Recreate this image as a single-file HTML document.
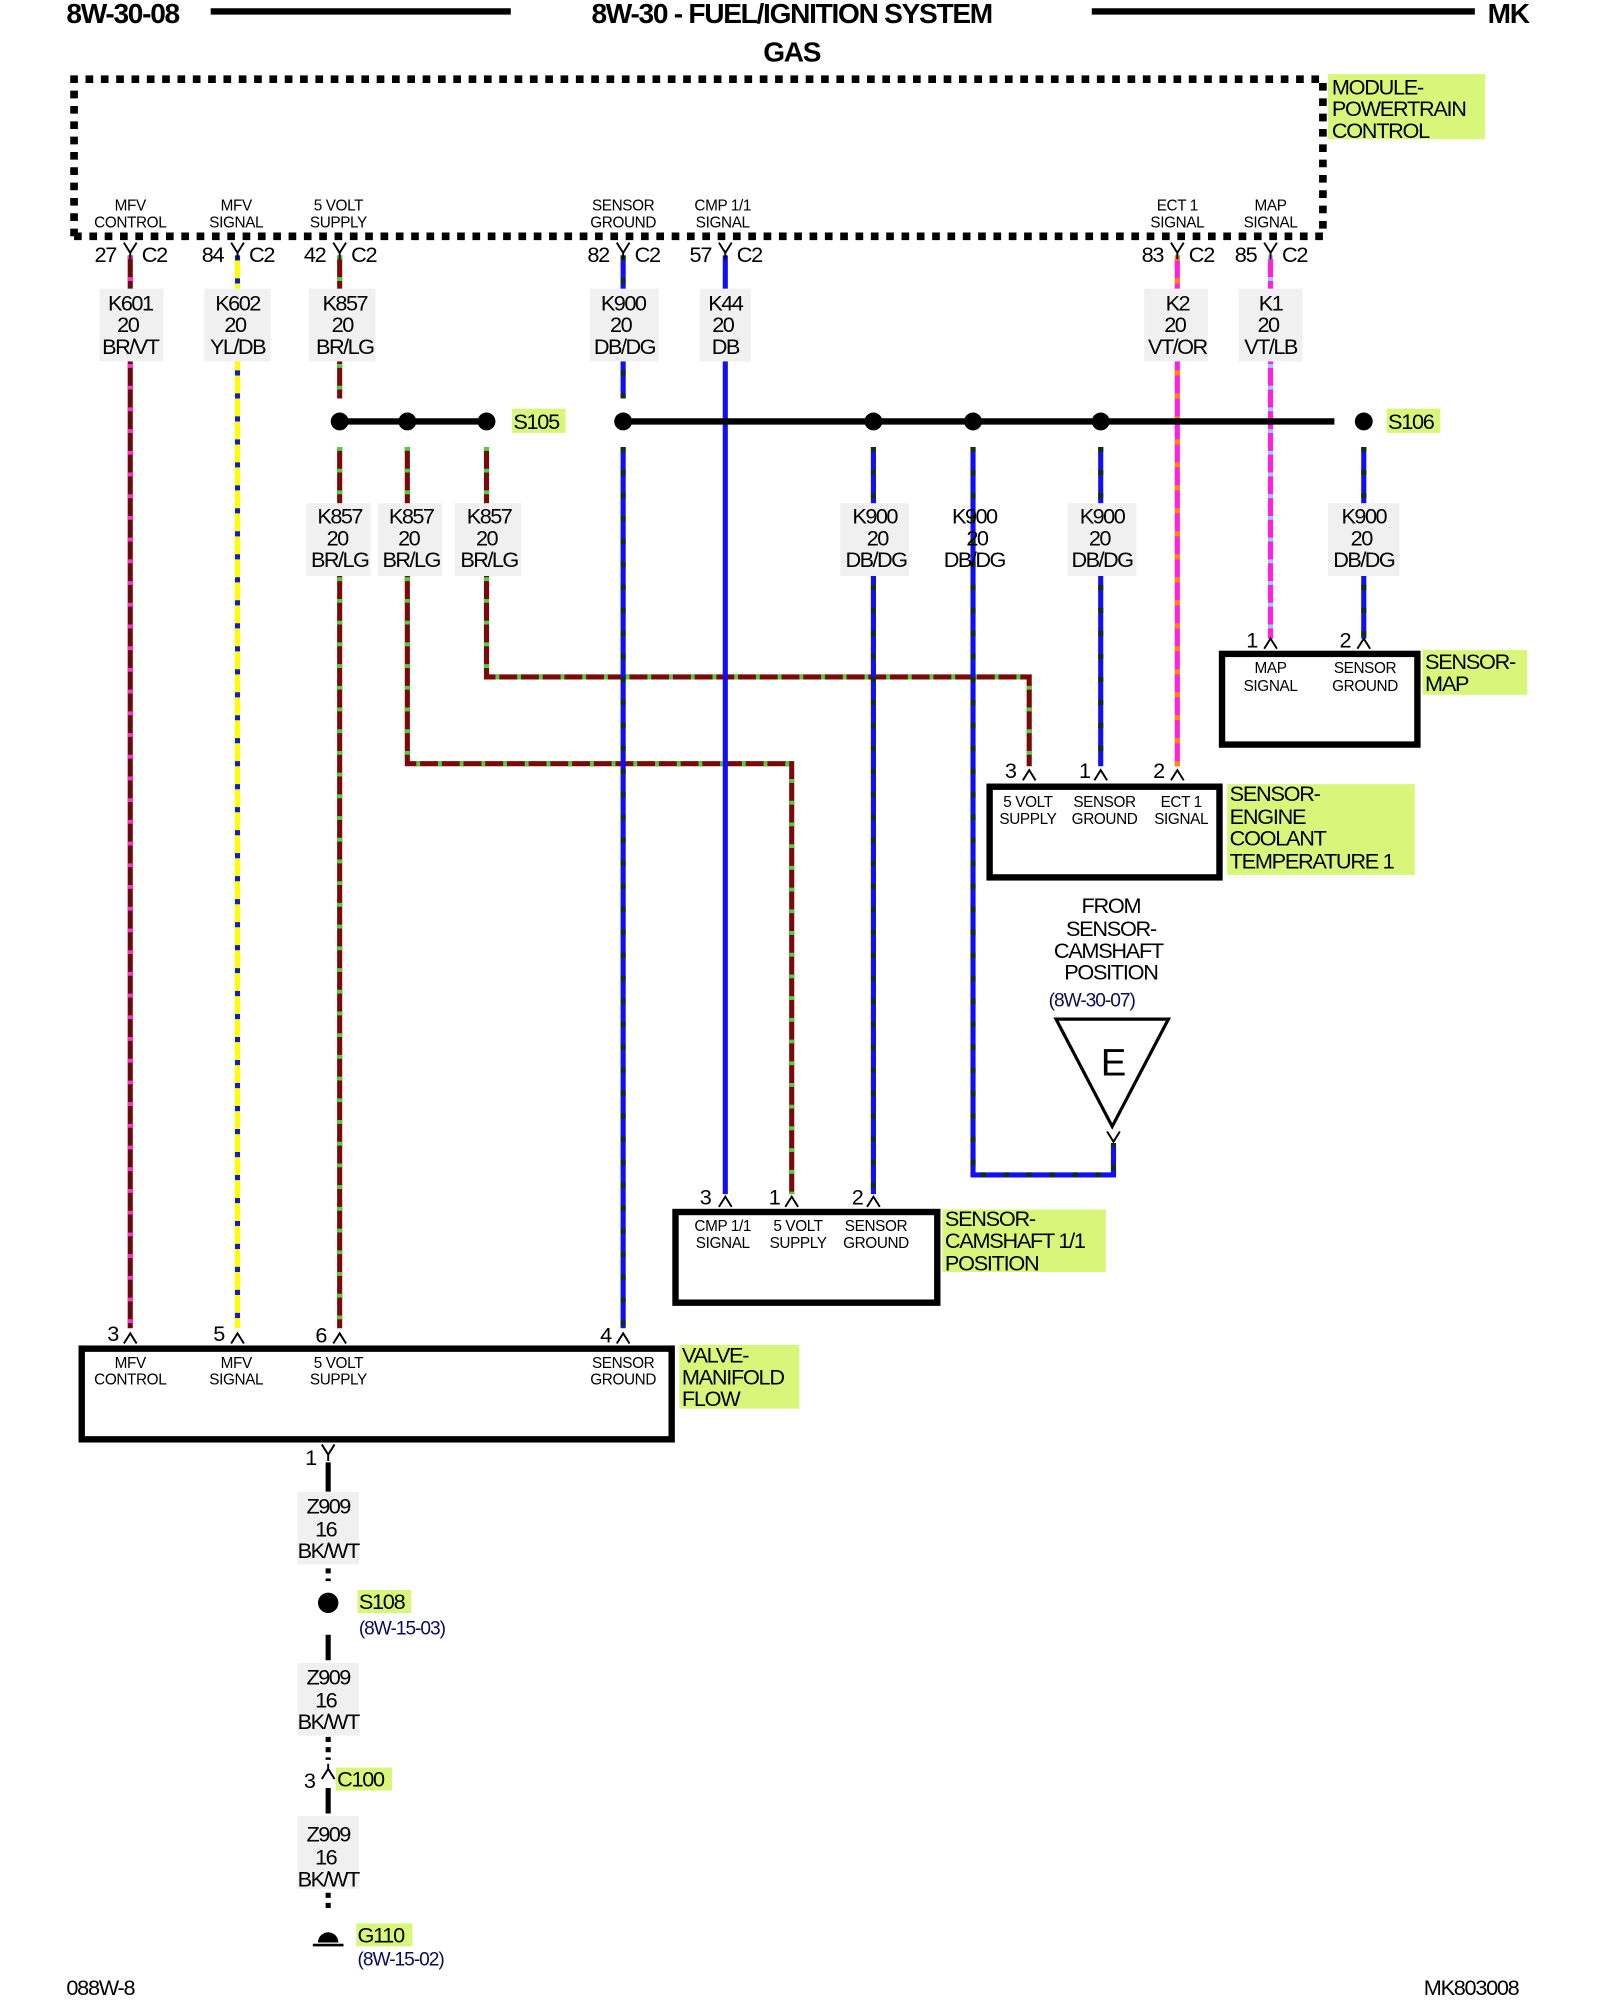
<!DOCTYPE html>
<html><head><meta charset="utf-8"><style>
html,body{margin:0;padding:0;background:#fff}
svg{display:block}
text{font-family:"Liberation Sans",Arial,sans-serif;fill:#000}
.h{font-size:22px;font-weight:bold;letter-spacing:-1px}
.p{font-size:12px;letter-spacing:-0.3px}
.n{font-size:17px;letter-spacing:-1px}
.w{font-size:17px;letter-spacing:-1.2px}
.g{font-size:17px;letter-spacing:-1px}
.ref{font-size:15px;fill:#0a0a5a;letter-spacing:-0.8px}
.hl{fill:#d8f77a}
.lb{fill:#f0f0f0}
.box{fill:none;stroke:#000;stroke-width:5}
.sym{fill:none;stroke:#000;stroke-width:1.5}
</style></head><body>
<svg width="1600" height="2000" viewBox="0 0 1253 1566" preserveAspectRatio="none" xmlns="http://www.w3.org/2000/svg">
<!-- header -->
<text class="h" x="52" y="18">8W-30-08</text>
<line x1="165" y1="9" x2="400" y2="9" stroke="#000" stroke-width="5"/>
<text class="h" x="620" y="18" text-anchor="middle">8W-30 - FUEL/IGNITION SYSTEM</text>
<text class="h" x="620" y="48" text-anchor="middle">GAS</text>
<line x1="855" y1="9" x2="1155" y2="9" stroke="#000" stroke-width="5"/>
<text class="h" x="1165" y="18">MK</text>

<!-- PCM dotted box -->
<path d="M58,185 L58,62 L1036,62 L1036,185 L58,185" fill="none" stroke="#000" stroke-width="6" stroke-dasharray="6 6"/>
<rect class="hl" x="1040" y="58" width="123" height="51"/>
<text class="g" x="1043" y="74">MODULE-</text>
<text class="g" x="1043" y="91">POWERTRAIN</text>
<text class="g" x="1043" y="108">CONTROL</text>

<!-- PCM pin labels -->
<g class="p" text-anchor="middle">
<text x="102" y="165">MFV</text><text x="102" y="178">CONTROL</text>
<text x="185" y="165">MFV</text><text x="185" y="178">SIGNAL</text>
<text x="265" y="165">5 VOLT</text><text x="265" y="178">SUPPLY</text>
<text x="488" y="165">SENSOR</text><text x="488" y="178">GROUND</text>
<text x="566" y="165">CMP 1/1</text><text x="566" y="178">SIGNAL</text>
<text x="922" y="165">ECT 1</text><text x="922" y="178">SIGNAL</text>
<text x="995" y="165">MAP</text><text x="995" y="178">SIGNAL</text>
</g>

<!-- wires -->
<g fill="none" stroke-width="4">
<path d="M102,200 V1040" stroke="#6b0a0a"/>
<path d="M102,200 V1040" stroke="#ff30c8" stroke-dasharray="3 14"/>
<path d="M186,200 V1040" stroke="#ffff00"/>
<path d="M186,200 V1040" stroke="#1020c0" stroke-dasharray="4 14"/>
<path d="M266,200 V312 M266,350 V1040 M319,350 V598 H620 V935 M381,350 V530 H806 V600" stroke="#7a0a0a"/>
<path d="M266,200 V312 M266,350 V1040 M319,350 V598 H620 V935 M381,350 V530 H806 V600" stroke="#50d040" stroke-dasharray="3 14"/>
<path d="M488,200 V312 M488,350 V1040 M684,350 V935 M762,350 V920 H872 V895 M862,350 V600 M1068,350 V500" stroke="#1010f0"/>
<path d="M488,200 V312 M488,350 V1040 M684,350 V935 M762,350 V920 H872 V895 M862,350 V600 M1068,350 V500" stroke="#103010" stroke-dasharray="4 14"/>
<path d="M568,200 V935" stroke="#1010f0"/>
<path d="M922,200 V600" stroke="#ff20e0"/>
<path d="M922,200 V600" stroke="#ff8c00" stroke-dasharray="4 14"/>
<path d="M995,200 V500" stroke="#ff20e0"/>
<path d="M995,200 V500" stroke="#a0c8ff" stroke-dasharray="3 14"/>
<path d="M257,1145 V1168 M257,1280 V1300 M257,1400 V1420" stroke="#000"/>
<path d="M257,1228 V1238 M257,1360 V1378 M257,1482 V1496" stroke="#000" stroke-dasharray="4 4"/>
</g>

<!-- PCM connector symbols -->
<g class="sym">
<path d="M97,190 L102,198 L107,190 M102,198 V203"/>
<path d="M181,190 L186,198 L191,190 M186,198 V203"/>
<path d="M261,190 L266,198 L271,190 M266,198 V203"/>
<path d="M483,190 L488,198 L493,190 M488,198 V203"/>
<path d="M563,190 L568,198 L573,190 M568,198 V203"/>
<path d="M917,190 L922,198 L927,190 M922,198 V203"/>
<path d="M990,190 L995,198 L1000,190 M995,198 V203"/>
</g>
<g class="n">
<text x="74" y="205">27</text><text x="111" y="205">C2</text>
<text x="158" y="205">84</text><text x="195" y="205">C2</text>
<text x="238" y="205">42</text><text x="275" y="205">C2</text>
<text x="460" y="205">82</text><text x="497" y="205">C2</text>
<text x="540" y="205">57</text><text x="577" y="205">C2</text>
<text x="894" y="205">83</text><text x="931" y="205">C2</text>
<text x="967" y="205">85</text><text x="1004" y="205">C2</text>
</g>

<!-- wire labels top -->
<g class="w" text-anchor="middle">
<rect class="lb" x="78" y="226" width="50" height="57"/><text x="102" y="243">K601</text><text x="100" y="260">20</text><text x="102" y="277">BR/VT</text>
<rect class="lb" x="160" y="226" width="52" height="57"/><text x="186" y="243">K602</text><text x="184" y="260">20</text><text x="186" y="277">YL/DB</text>
<rect class="lb" x="242" y="226" width="52" height="57"/><text x="270" y="243">K857</text><text x="268" y="260">20</text><text x="270" y="277">BR/LG</text>
<rect class="lb" x="462" y="226" width="54" height="57"/><text x="488" y="243">K900</text><text x="486" y="260">20</text><text x="489" y="277">DB/DG</text>
<rect class="lb" x="548" y="226" width="40" height="57"/><text x="568" y="243">K44</text><text x="566" y="260">20</text><text x="568" y="277">DB</text>
<rect class="lb" x="896" y="226" width="50" height="57"/><text x="922" y="243">K2</text><text x="920" y="260">20</text><text x="922" y="277">VT/OR</text>
<rect class="lb" x="970" y="226" width="50" height="57"/><text x="995" y="243">K1</text><text x="993" y="260">20</text><text x="995" y="277">VT/LB</text>
</g>

<!-- splices -->
<line x1="266" y1="330" x2="381" y2="330" stroke="#000" stroke-width="5"/>
<line x1="488" y1="330" x2="1045" y2="330" stroke="#000" stroke-width="5"/>
<g fill="#000">
<circle cx="266" cy="330" r="7"/><circle cx="319" cy="330" r="7"/><circle cx="381" cy="330" r="7"/>
<circle cx="488" cy="330" r="7"/><circle cx="684" cy="330" r="7"/><circle cx="762" cy="330" r="7"/><circle cx="862" cy="330" r="7"/>
<circle cx="1068" cy="330" r="7"/>
</g>
<rect class="hl" x="401" y="320" width="42" height="19"/><text class="g" x="402" y="336">S105</text>
<rect class="hl" x="1086" y="320" width="42" height="19"/><text class="g" x="1087" y="336">S106</text>

<!-- wire labels second row -->
<g class="w" text-anchor="middle">
<rect class="lb" x="240" y="394" width="50" height="57"/><text x="266" y="410">K857</text><text x="264" y="427">20</text><text x="266" y="444">BR/LG</text>
<rect class="lb" x="296" y="394" width="50" height="57"/><text x="322" y="410">K857</text><text x="320" y="427">20</text><text x="322" y="444">BR/LG</text>
<rect class="lb" x="356" y="394" width="52" height="57"/><text x="383" y="410">K857</text><text x="381" y="427">20</text><text x="383" y="444">BR/LG</text>
<rect class="lb" x="658" y="394" width="54" height="57"/><text x="685" y="410">K900</text><text x="687" y="427">20</text><text x="686" y="444">DB/DG</text>
<text x="763" y="410">K900</text><text x="765" y="427">20</text><text x="763" y="444">DB/DG</text>
<rect class="lb" x="836" y="394" width="54" height="57"/><text x="863" y="410">K900</text><text x="861" y="427">20</text><text x="863" y="444">DB/DG</text>
<rect class="lb" x="1040" y="394" width="56" height="57"/><text x="1068" y="410">K900</text><text x="1066" y="427">20</text><text x="1068" y="444">DB/DG</text>
</g>

<!-- MAP sensor -->
<rect class="box" x="957" y="512" width="153" height="71"/>
<g class="sym"><path d="M990,508 L995,500 L1000,508 M1063,508 L1068,500 L1073,508"/></g>
<g class="n"><text x="976" y="507">1</text><text x="1049" y="507">2</text></g>
<g class="p" text-anchor="middle"><text x="995" y="527">MAP</text><text x="995" y="541">SIGNAL</text><text x="1069" y="527">SENSOR</text><text x="1069" y="541">GROUND</text></g>
<rect class="hl" x="1114" y="509" width="82" height="35"/>
<text class="g" x="1116" y="524">SENSOR-</text><text class="g" x="1116" y="541">MAP</text>

<!-- ECT sensor -->
<rect class="box" x="775" y="616" width="180" height="71"/>
<g class="sym"><path d="M801,611 L806,603 L811,611 M857,611 L862,603 L867,611 M917,611 L922,603 L927,611"/></g>
<g class="n"><text x="787" y="609">3</text><text x="845" y="609">1</text><text x="903" y="609">2</text></g>
<g class="p" text-anchor="middle"><text x="805" y="632">5 VOLT</text><text x="805" y="645">SUPPLY</text><text x="865" y="632">SENSOR</text><text x="865" y="645">GROUND</text><text x="925" y="632">ECT 1</text><text x="925" y="645">SIGNAL</text></g>
<rect class="hl" x="961" y="614" width="147" height="71"/>
<text class="g" x="963" y="627">SENSOR-</text><text class="g" x="963" y="645">ENGINE</text><text class="g" x="963" y="662">COOLANT</text><text class="g" x="963" y="680">TEMPERATURE 1</text>

<!-- FROM label & triangle -->
<g class="g" text-anchor="middle"><text x="870" y="715">FROM</text><text x="870" y="733">SENSOR-</text><text x="868" y="750">CAMSHAFT</text><text x="870" y="767">POSITION</text></g>
<text class="ref" x="855" y="788" text-anchor="middle">(8W-30-07)</text>
<polygon points="827,798 915,798 871,882" fill="#fff" stroke="#000" stroke-width="2.5"/>
<text x="872" y="842" text-anchor="middle" style="font-size:30px">E</text>
<g class="sym"><path d="M867,886 L872,894 L877,886"/></g>

<!-- CMP sensor -->
<rect class="box" x="529" y="949" width="205" height="71"/>
<g class="sym"><path d="M563,945 L568,937 L573,945 M615,945 L620,937 L625,945 M679,945 L684,937 L689,945"/></g>
<g class="n"><text x="548" y="943">3</text><text x="602" y="943">1</text><text x="667" y="943">2</text></g>
<g class="p" text-anchor="middle"><text x="566" y="964">CMP 1/1</text><text x="566" y="977">SIGNAL</text><text x="625" y="964">5 VOLT</text><text x="625" y="977">SUPPLY</text><text x="686" y="964">SENSOR</text><text x="686" y="977">GROUND</text></g>
<rect class="hl" x="738" y="947" width="128" height="49"/>
<text class="g" x="740" y="960">SENSOR-</text><text class="g" x="740" y="977">CAMSHAFT 1/1</text><text class="g" x="740" y="995">POSITION</text>

<!-- Valve -->
<rect class="box" x="64" y="1056" width="462" height="71"/>
<g class="sym"><path d="M97,1052 L102,1044 L107,1052 M181,1052 L186,1044 L191,1052 M261,1052 L266,1044 L271,1052 M483,1052 L488,1044 L493,1052"/></g>
<g class="n"><text x="84" y="1050">3</text><text x="167" y="1050">5</text><text x="247" y="1051">6</text><text x="470" y="1051">4</text></g>
<g class="p" text-anchor="middle"><text x="102" y="1071">MFV</text><text x="102" y="1084">CONTROL</text><text x="185" y="1071">MFV</text><text x="185" y="1084">SIGNAL</text><text x="265" y="1071">5 VOLT</text><text x="265" y="1084">SUPPLY</text><text x="488" y="1071">SENSOR</text><text x="488" y="1084">GROUND</text></g>
<rect class="hl" x="532" y="1053" width="94" height="50"/>
<text class="g" x="534" y="1067">VALVE-</text><text class="g" x="534" y="1084">MANIFOLD</text><text class="g" x="534" y="1101">FLOW</text>

<!-- ground chain -->
<g class="sym"><path d="M252,1131 L257,1139 L262,1131 M257,1139 V1144"/><path d="M252,1393 L257,1385 L262,1393 M257,1385 V1381"/></g>
<text class="n" x="239" y="1147">1</text>
<g class="w" text-anchor="middle">
<rect class="lb" x="233" y="1168" width="48" height="57"/><text x="257" y="1185">Z909</text><text x="255" y="1203">16</text><text x="257" y="1220">BK/WT</text>
<rect class="lb" x="233" y="1302" width="48" height="57"/><text x="257" y="1319">Z909</text><text x="255" y="1337">16</text><text x="257" y="1354">BK/WT</text>
<rect class="lb" x="233" y="1422" width="48" height="57"/><text x="257" y="1442">Z909</text><text x="255" y="1460">16</text><text x="257" y="1477">BK/WT</text>
</g>
<circle cx="257" cy="1255" r="8" fill="#000"/>
<rect class="hl" x="280" y="1245" width="42" height="18"/><text class="g" x="281" y="1260">S108</text>
<text class="ref" x="281" y="1280">(8W-15-03)</text>
<text class="n" x="238" y="1400">3</text>
<rect class="hl" x="263" y="1384" width="44" height="18"/><text class="g" x="264" y="1399">C100</text>
<path d="M249,1521 A8,8 0 0 1 265,1521 Z" fill="#000"/>
<line x1="245" y1="1523" x2="269" y2="1523" stroke="#000" stroke-width="2"/>
<rect class="hl" x="279" y="1506" width="44" height="18"/><text class="g" x="280" y="1521">G110</text>
<text class="ref" x="280" y="1539">(8W-15-02)</text>

<!-- footer -->
<text class="g" x="52" y="1562">088W-8</text>
<text class="g" x="1115" y="1562">MK803008</text>
</svg>
</body></html>
